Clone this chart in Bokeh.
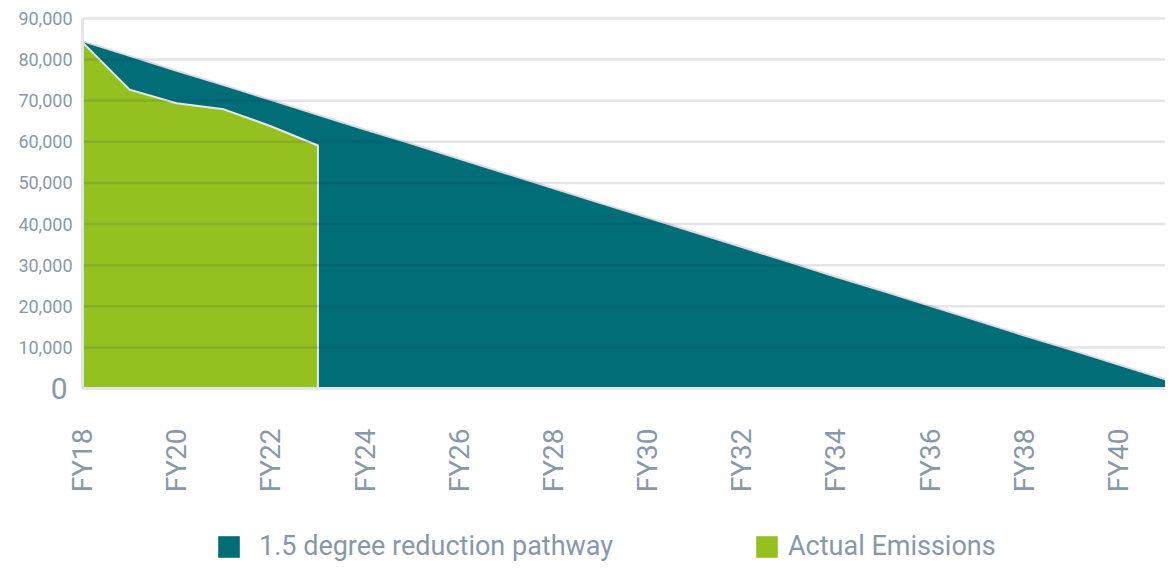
import math
from bokeh.plotting import figure
from bokeh.models import Legend, LegendItem, FixedTicker, NumeralTickFormatter, LinearAxis, Range1d
from bokeh.embed import file_html
from bokeh.resources import INLINE

# ---- data ----
years = [18, 19, 20, 21, 22, 23, 24, 25, 26, 27, 28, 29, 30, 31, 32, 33, 34, 35, 36, 37, 38, 39, 40, 41]
pathway = [84500, 80900, 77300, 73800, 70200, 66600, 63000, 59500, 55900, 52300, 48700, 45100,
           41600, 38000, 34400, 30800, 27200, 23700, 20100, 16500, 12900, 9400, 5800, 2200]
years_actual = [18, 19, 20, 21, 22, 23]
actual = [84200, 72700, 69400, 67900, 63800, 59100]
tick_years = [18, 20, 22, 24, 26, 28, 30, 32, 34, 36, 38, 40]
x_labels = ["FY18", "FY20", "FY22", "FY24", "FY26", "FY28", "FY30", "FY32", "FY34", "FY36", "FY38", "FY40"]
y_ticks = [0, 10000, 20000, 30000, 40000, 50000, 60000, 70000, 80000, 90000]
series_names = ["1.5 degree reduction pathway", "Actual Emissions"]

TEAL = "#006d77"
GREEN = "#94c11f"
TXT = "#8898aa"
AXIS = "#e3e3e8"
FONT = "Roboto"

# layout (pixels): the frame covers the whole canvas; the data area sits inside it
W, H = 1165, 566
PLOT_LEFT, PLOT_TOP, PLOT_BOTTOM = 82, 18, 388
px_x = (W - PLOT_LEFT) / (years[-1] - years[0])
px_y = (PLOT_BOTTOM - PLOT_TOP) / (y_ticks[-1] - y_ticks[0])
x_rng = Range1d(years[0] - PLOT_LEFT / px_x, years[-1])
y_rng = Range1d(y_ticks[0] - (H - PLOT_BOTTOM) / px_y, y_ticks[-1] + PLOT_TOP / px_y)

p = figure(width=W, height=H, x_range=x_rng, y_range=y_rng,
           output_backend="svg", toolbar_location=None, x_axis_location=None, y_axis_location=None,
           min_border_left=0, min_border_right=0, min_border_top=0, min_border_bottom=0)
p.outline_line_color = None
p.grid.visible = False

r1 = p.varea(x=years, y1=0, y2=pathway, fill_color=TEAL)
p.line(years, pathway, line_color="#dcdce4", line_width=2)
r2 = p.varea(x=years_actual, y1=0, y2=actual, fill_color=GREEN)
p.line(years_actual + [years_actual[-1]], actual + [0], line_color="#e8e8ec", line_width=2)

# horizontal grid lines, drawn over the areas
gy = y_ticks[1:]
p.segment(x0=[years[0]] * len(gy), x1=[years[-1]] * len(gy), y0=gy, y1=gy,
          line_color="#1e2a50", line_alpha=0.12, line_width=2.5)

# x axis pinned at y = 0
xa = LinearAxis(fixed_location=y_ticks[0], bounds=(years[0], years[-1]),
                ticker=FixedTicker(ticks=tick_years),
                major_label_overrides=dict(zip(tick_years, x_labels)),
                major_label_orientation=math.pi / 2,
                major_tick_line_color=None, major_tick_out=0, major_tick_in=0,
                minor_tick_line_color=None,
                axis_line_color=AXIS, axis_line_width=3,
                major_label_standoff=40, major_label_text_font=FONT,
                major_label_text_font_size="28px", major_label_text_color=TXT)
p.add_layout(xa, "below")

# y axis pinned at the first year: axis line + large "0"
za = LinearAxis(fixed_location=years[0], ticker=FixedTicker(ticks=[y_ticks[0]]),
                bounds=(y_ticks[0], y_ticks[-1]),
                axis_line_color=AXIS, axis_line_width=3,
                major_tick_line_color=None, minor_tick_line_color=None,
                major_tick_out=0, major_tick_in=0, major_label_standoff=15,
                major_label_text_font=FONT, major_label_text_font_size="30px",
                major_label_text_color=TXT)
p.add_layout(za, "left")

# y axis labels 10,000 .. 90,000
ya = LinearAxis(fixed_location=years[0], ticker=FixedTicker(ticks=y_ticks[1:]),
                formatter=NumeralTickFormatter(format="0,0"),
                axis_line_color=None, major_tick_line_color=None, minor_tick_line_color=None,
                major_tick_out=0, major_tick_in=0, major_label_standoff=10,
                major_label_text_font=FONT, major_label_text_font_size="18px",
                major_label_text_color=TXT)
p.add_layout(ya, "left")

def mk_legend(item, loc, standoff):
    lg = Legend(items=[item], location=loc, orientation="horizontal",
                glyph_width=27, glyph_height=27, label_standoff=standoff,
                label_text_font=FONT, label_text_font_size="27px", label_text_color=TXT,
                padding=0, margin=0, border_line_color=None, background_fill_alpha=0)
    p.add_layout(lg, "center")

mk_legend(LegendItem(label=series_names[0], renderers=[r1]), (215, 4), 17)
mk_legend(LegendItem(label=series_names[1], renderers=[r2]), (753, 4), 8)

open("out.html", "w").write(file_html(p, INLINE))
